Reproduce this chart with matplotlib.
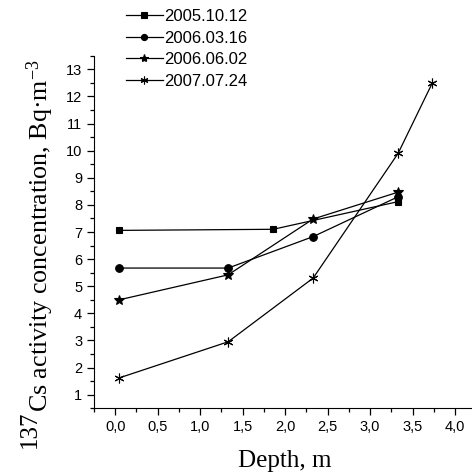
import matplotlib
matplotlib.use("Agg")
import matplotlib.pyplot as plt
from matplotlib.ticker import MultipleLocator

plt.rcParams['font.family'] = ['Liberation Sans', 'DejaVu Sans']
plt.rcParams['mathtext.fontset'] = 'custom'
plt.rcParams['mathtext.rm'] = 'Liberation Serif'
plt.rcParams['mathtext.it'] = 'Liberation Serif:italic'

labels = ['2005.10.12', '2006.03.16', '2006.06.02', '2007.07.24']
markers = ['s', 'o', '*', (6, 2, 0)]

depth_1 = [0.05, 1.86, 3.33]
conc_1 = [7.06, 7.1, 8.12]
depth_2 = [0.05, 1.33, 2.33, 3.33]
conc_2 = [5.67, 5.67, 6.83, 8.3]
depth_3 = [0.05, 1.33, 2.33, 3.33]
conc_3 = [4.5, 5.42, 7.48, 8.47]
depth_4 = [0.05, 1.33, 2.33, 3.33, 3.73]
conc_4 = [1.62, 2.95, 5.3, 9.9, 12.48]

series = [(depth_1, conc_1), (depth_2, conc_2), (depth_3, conc_3), (depth_4, conc_4)]
sizes = [4.8, 5.5, 7.5, 7]

fig = plt.figure(figsize=(4.72, 4.73), dpi=100)
ax = fig.add_axes([0.199, 0.137, 0.801, 0.745])

for (x, y), m, lab, s in zip(series, markers, labels, sizes):
    ax.plot(x, y, color='black', lw=0.9, marker=m, ms=s, mfc='black',
            mec='black', mew=0.8, label=lab)

ax.set_xlim(-0.25, 4.2)
ax.set_ylim(0.5, 13.5)
ax.xaxis.set_major_locator(MultipleLocator(0.5))
ax.xaxis.set_minor_locator(MultipleLocator(0.25))
ax.yaxis.set_major_locator(MultipleLocator(1))
ax.yaxis.set_minor_locator(MultipleLocator(0.5))
ax.xaxis.set_major_formatter(plt.FuncFormatter(lambda v, p: f"{v:.1f}".replace('.', ',')))
ax.spines['top'].set_visible(False)
ax.spines['right'].set_visible(False)
ax.tick_params(which='major', length=5, width=0.9, labelsize=10.5, direction='out')
ax.tick_params(which='minor', length=3, width=0.9, direction='out')

ax.set_xlabel('Depth, m', family='Liberation Serif', fontsize=18)
ax.xaxis.set_label_coords(0.505, -0.119)

# y label: big "137" prefix raised, then the rest
fig.text(0.1017, 0.129, 'Cs activity concentration, Bq\u00b7m$^{-3}$',
         family='Liberation Serif', fontsize=18.7, rotation=90,
         rotation_mode='anchor', ha='left', va='baseline')
fig.text(0.0763, 0.053, '137', family='Liberation Serif', fontsize=18,
         rotation=90, rotation_mode='anchor', ha='left', va='baseline')

fig.legend(loc='upper left', bbox_to_anchor=(0.267, 0.981), frameon=False,
           fontsize=12, handlelength=2.2, handletextpad=0.1, labelspacing=0.4,
           borderaxespad=0, borderpad=0, markerscale=0.8)

fig.savefig('out.png', dpi=100)
